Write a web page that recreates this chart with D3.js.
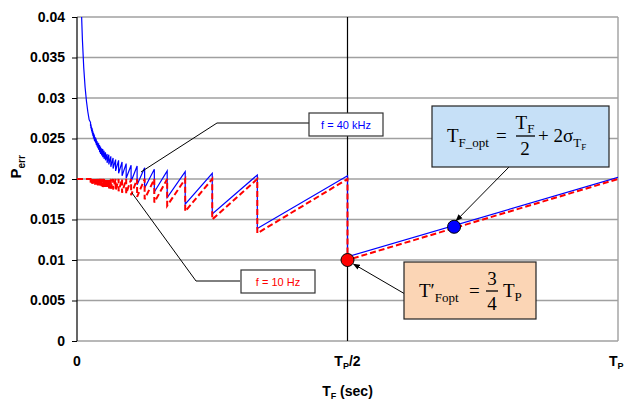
<!DOCTYPE html>
<html>
<head>
<meta charset="utf-8">
<script src="https://cdn.jsdelivr.net/npm/d3@7"></script>
<style>
  body { margin: 0; background: #fff; }
  svg { display: block; font-family: "Liberation Sans", Arial, sans-serif; }
</style>
</head>
<body>
<div id="chart"></div>
<script>
// ---- data (T_F given as a fraction of T_P) ----
// positions where the sawtooth drops: T_P/2, T_P/3, ... T_P/40
var edgeT = [0.5, 0.3333, 0.25, 0.2, 0.1667, 0.1429, 0.125, 0.1111, 0.1, 0.0909,
             0.0833, 0.0769, 0.0714, 0.0667, 0.0625, 0.0588, 0.0556, 0.0526, 0.05, 0.0476,
             0.0455, 0.0435, 0.0417, 0.04, 0.0385, 0.037, 0.0357, 0.0345, 0.0333, 0.0323,
             0.0313, 0.0303, 0.0294, 0.0286, 0.0278, 0.027, 0.0263, 0.0256, 0.025];

// f = 10 Hz (red, dashed)
var redStart = 0.02;
var redPeak = 0.02;
var redLow = [0.01, 0.0133, 0.015, 0.016, 0.0167, 0.0171, 0.0175, 0.0178, 0.018, 0.0182,
              0.0183, 0.0185, 0.0186, 0.0187, 0.0188, 0.0188, 0.0189, 0.0189, 0.019, 0.019,
              0.0191, 0.0191, 0.0192, 0.0192, 0.0192, 0.0193, 0.0193, 0.0193, 0.0193, 0.0194,
              0.0194, 0.0194, 0.0194, 0.0194, 0.0194, 0.0195, 0.0195, 0.0195, 0.0195];
var redEnd = 0.02;

// f = 40 kHz (blue)
var blueHeadT = [0.0075, 0.0085, 0.01, 0.0125, 0.015, 0.0175, 0.02, 0.0225];
var blueHeadP = [0.0428, 0.0401, 0.0372, 0.0337, 0.0313, 0.0296, 0.0283, 0.0273];
var blueHigh = [0.0204, 0.0205, 0.0207, 0.0209, 0.021, 0.0212, 0.0214, 0.0216, 0.0217, 0.0219,
                0.0221, 0.0223, 0.0224, 0.0226, 0.0228, 0.023, 0.0231, 0.0233, 0.0235, 0.0237,
                0.0238, 0.024, 0.0242, 0.0244, 0.0245, 0.0247, 0.0249, 0.0251, 0.0252, 0.0254,
                0.0256, 0.0257, 0.0259, 0.0261, 0.0263, 0.0264, 0.0266, 0.0268, 0.027];
var blueLow = [0.0104, 0.0139, 0.0157, 0.0169, 0.0177, 0.0184, 0.0189, 0.0193, 0.0197, 0.0201,
               0.0204, 0.0207, 0.021, 0.0213, 0.0215, 0.0218, 0.022, 0.0223, 0.0225, 0.0227,
               0.0229, 0.0231, 0.0233, 0.0236, 0.0238, 0.024, 0.0242, 0.0244, 0.0246, 0.0247,
               0.0249, 0.0251, 0.0253, 0.0255, 0.0257, 0.0259, 0.0261, 0.0263, 0.0265];
var blueEnd = 0.0202;

// highlighted optima
var redDot = [0.5, 0.01];
var blueDot = [0.697, 0.0141];

// axes
var yTicks = [0, 0.005, 0.01, 0.015, 0.02, 0.025, 0.03, 0.035, 0.04];
var yTickLabels = ["0", "0.005", "0.01", "0.015", "0.02", "0.025", "0.03", "0.035", "0.04"];
var xTicks = [0, 0.5, 1];
var xTickLabels = [["0", ""], ["T", "P", "/2"], ["T", "P", ""]];

// ---- set up ----
var width = 624, height = 403;
var margin = {top: 17, right: 6, bottom: 62, left: 77};

var svg = d3.select("#chart").append("svg")
    .attr("width", width)
    .attr("height", height);

var x = d3.scaleLinear().domain([0, 1]).range([margin.left, width - margin.right]);
var y = d3.scaleLinear().domain([0, 0.04]).range([height - margin.bottom, margin.top]);

// gridlines
svg.append("g")
  .selectAll("line")
  .data(yTicks)
  .join("line")
    .attr("x1", x(0)).attr("x2", x(1))
    .attr("y1", d => y(d)).attr("y2", d => y(d))
    .attr("stroke", "#a0a0a0")
    .attr("stroke-width", 1.4);

// right border of plot area
svg.append("line")
    .attr("x1", x(1)).attr("x2", x(1))
    .attr("y1", y(0.04)).attr("y2", y(0))
    .attr("stroke", "#a0a0a0")
    .attr("stroke-width", 1.4);

// y axis
svg.append("g")
    .attr("transform", `translate(${x(0)},0)`)
    .call(d3.axisLeft(y).tickValues(yTicks).tickSize(5).tickPadding(7)
      .tickFormat((d, i) => yTickLabels[i]))
    .call(g => g.select(".domain").remove())
    .call(g => g.selectAll(".tick line").attr("stroke", "#000"))
    .call(g => g.selectAll(".tick text")
      .attr("fill", "#000")
      .style("font-size", "14px")
      .style("font-weight", "bold")
      .style("font-family", "'Liberation Sans', Arial, sans-serif"));

svg.append("line")
    .attr("x1", x(0)).attr("x2", x(0))
    .attr("y1", y(0.04)).attr("y2", y(0))
    .attr("stroke", "#000")
    .attr("stroke-width", 1.2);

// vertical line at T_P/2
svg.append("line")
    .attr("x1", x(0.5)).attr("x2", x(0.5))
    .attr("y1", y(0.04)).attr("y2", y(0))
    .attr("stroke", "#000")
    .attr("stroke-width", 1.2);

// x tick labels
var xl = svg.append("g")
  .selectAll("text")
  .data(xTicks)
  .join("text")
    .attr("x", d => x(d))
    .attr("y", 366)
    .attr("text-anchor", d => d == 1 ? "start" : "middle")
    .attr("dx", d => d == 1 ? -9 : 0)
    .style("font-size", "14px")
    .style("font-weight", "bold");
xl.each(function(d, i) {
  var t = d3.select(this), lab = xTickLabels[i];
  t.append("tspan").text(lab[0]);
  if (lab[1]) t.append("tspan").attr("dy", 3).style("font-size", "9px").text(lab[1]);
  if (lab[2]) t.append("tspan").attr("dy", -3).text(lab[2]);
});

// axis titles
var xt = svg.append("text")
    .attr("x", x(0.5))
    .attr("y", 396)
    .attr("text-anchor", "middle")
    .style("font-size", "14px")
    .style("font-weight", "bold");
xt.append("tspan").text("T");
xt.append("tspan").attr("dy", 3).style("font-size", "9px").text("F");
xt.append("tspan").attr("dy", -3).text(" (sec)");

var yt = svg.append("text")
    .attr("transform", `translate(21,${y(0.0215)}) rotate(-90)`)
    .attr("text-anchor", "middle")
    .style("font-size", "15px")
    .style("font-weight", "bold");
yt.append("tspan").text("P");
yt.append("tspan").attr("dy", 4).style("font-size", "10px").text("err");

// ---- curves ----
svg.append("clipPath").attr("id", "plotclip")
  .append("rect")
    .attr("x", x(0)).attr("y", y(0.04))
    .attr("width", x(1) - x(0)).attr("height", y(0) - y(0.04));

var redPts = [[0, redStart]];
for (var i = edgeT.length - 1; i >= 0; i--) {
  redPts.push([edgeT[i], redPeak]);
  redPts.push([edgeT[i], redLow[i]]);
}
redPts.push([1, redEnd]);

var bluePts = blueHeadT.map((t, i) => [t, blueHeadP[i]]);
for (var i = edgeT.length - 1; i >= 0; i--) {
  bluePts.push([edgeT[i], blueHigh[i]]);
  bluePts.push([edgeT[i], blueLow[i]]);
}
bluePts.push([1, blueEnd]);

var line = d3.line().x(d => x(d[0])).y(d => y(d[1]));
var curves = svg.append("g").attr("clip-path", "url(#plotclip)");

curves.append("path")
    .datum(bluePts)
    .attr("fill", "none")
    .attr("stroke", "#0000ff")
    .attr("stroke-width", 1.2)
    .attr("d", line);

curves.append("path")
    .datum(redPts)
    .attr("fill", "none")
    .attr("stroke", "#ff0000")
    .attr("stroke-width", 2)
    .attr("stroke-dasharray", "6,3")
    .attr("d", line);

// ---- annotations ----
var defs = svg.append("defs");
defs.append("marker")
    .attr("id", "arrow")
    .attr("viewBox", "0 0 10 10")
    .attr("refX", 9).attr("refY", 5)
    .attr("markerWidth", 7).attr("markerHeight", 7)
    .attr("orient", "auto")
  .append("path")
    .attr("d", "M0,1L10,5L0,9z")
    .attr("fill", "#000");

// leader lines for legend boxes
svg.append("path")
    .attr("d", "M309,123 L217,123 L141,172")
    .attr("fill", "none").attr("stroke", "#000").attr("stroke-width", 1);
svg.append("path")
    .attr("d", "M240,281 L196,281 L132,193")
    .attr("fill", "none").attr("stroke", "#000").attr("stroke-width", 1);

function labelBox(bx, by, bw, bh, txt, col) {
  svg.append("rect")
      .attr("x", bx).attr("y", by).attr("width", bw).attr("height", bh)
      .attr("fill", "#fff").attr("stroke", "#333").attr("stroke-width", 1.2);
  svg.append("text")
      .attr("x", bx + bw / 2).attr("y", by + bh / 2 + 4)
      .attr("text-anchor", "middle")
      .attr("fill", col)
      .style("font-size", "11px")
      .text(txt);
}
labelBox(309, 113, 74, 23, "f = 40 kHz", "#0000ff");
labelBox(241, 270, 74, 23, "f = 10 Hz", "#ff0000");

// arrows to the optimum points
svg.append("line")
    .attr("x1", 509).attr("y1", 167).attr("x2", x(blueDot[0]) + 2).attr("y2", y(blueDot[1]) - 6)
    .attr("stroke", "#000").attr("stroke-width", 1).attr("marker-end", "url(#arrow)");
svg.append("line")
    .attr("x1", 405).attr("y1", 294).attr("x2", x(redDot[0]) + 6).attr("y2", y(redDot[1]) + 4)
    .attr("stroke", "#000").attr("stroke-width", 1).attr("marker-end", "url(#arrow)");

// optimum markers
svg.append("circle")
    .attr("cx", x(redDot[0])).attr("cy", y(redDot[1])).attr("r", 6.5)
    .attr("fill", "#ff0000").attr("stroke", "#000").attr("stroke-width", 1);
svg.append("circle")
    .attr("cx", x(blueDot[0])).attr("cy", y(blueDot[1])).attr("r", 6.5)
    .attr("fill", "#0000ff").attr("stroke", "#000").attr("stroke-width", 1);

// formula boxes
var serif = "'Liberation Serif', 'Times New Roman', serif";
function mtext(px, py, parts, anchor) {
  var t = svg.append("text").attr("x", px).attr("y", py)
      .attr("text-anchor", anchor || "start")
      .style("font-family", serif).attr("fill", "#000");
  var shift = 0;
  parts.forEach(p => {
    var ts = t.append("tspan").attr("dy", p[2] - shift).style("font-size", p[1] + "px").text(p[0]);
    if (p[3]) ts.attr("dx", p[3]);
    shift = p[2];
  });
  return t;
}

svg.append("rect")
    .attr("x", 432).attr("y", 106).attr("width", 177).attr("height", 61)
    .attr("fill", "#c6e0f7").attr("stroke", "#222").attr("stroke-width", 1.2);
mtext(447, 142, [["T", 19, 0], ["F_opt", 13, 5]]);
mtext(496, 142, [["=", 19, 0]]);
mtext(525, 129, [["T", 19, 0], ["F", 13, 4]], "middle");
svg.append("line").attr("x1", 516).attr("x2", 535).attr("y1", 136).attr("y2", 136)
    .attr("stroke", "#000").attr("stroke-width", 1.3);
mtext(525, 155, [["2", 19, 0]], "middle");
mtext(538, 142, [["+ 2σ", 19, 0], ["T", 13, 5], ["F", 9, 8]]);

svg.append("rect")
    .attr("x", 404).attr("y", 262).attr("width", 132).attr("height", 57)
    .attr("fill", "#fbd5b5").attr("stroke", "#222").attr("stroke-width", 1.2);
mtext(419, 297, [["T′", 19, 0], ["Fopt", 13, 5]]);
mtext(469, 297, [["=", 19, 0]]);
mtext(492, 285, [["3", 19, 0]], "middle");
svg.append("line").attr("x1", 486).attr("x2", 498).attr("y1", 291).attr("y2", 291)
    .attr("stroke", "#000").attr("stroke-width", 1.3);
mtext(492, 310, [["4", 19, 0]], "middle");
mtext(503, 297, [["T", 19, 0], ["P", 13, 4]]);
</script>
</body>
</html>
